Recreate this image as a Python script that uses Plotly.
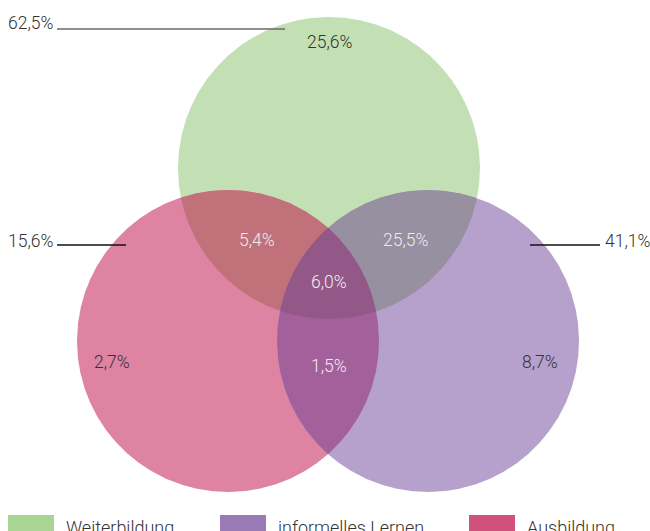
import numpy as np
import plotly.graph_objects as go

# ---- data ----
set_names = ["Weiterbildung", "informelles Lernen", "Ausbildung"]
set_colors = ["#a8d594", "#9a7bb6", "#d0517c"]
set_totals = [62.5, 41.1, 15.6]

region_names = ["W", "I", "A", "W&A", "W&I", "I&A", "W&I&A"]
region_values = [25.6, 8.7, 2.7, 5.4, 25.5, 1.5, 6.0]


def fmt(v):
    return f"{v:.1f}".replace(".", ",") + "%"


# ---- layout (pixel space) ----
W, H = 650, 531
R = 151
centers = {"W": (329, 168), "A": (228, 341), "I": (428, 341)}

# region fill colours (as rendered)
region_fill = {
    "W": "#c3e0b4", "A": "#de83a1", "I": "#b5a1cb",
    "W&A": "#c1717a", "W&I": "#9690a0", "I&A": "#a3609b", "W&I&A": "#935887",
}
region_pos = {
    "W": (329, 42, "#333333"),
    "I": (540, 362, "#333333"),
    "A": (112, 362, "#333333"),
    "W&A": (257, 240, "#f0eaee"),
    "W&I": (405, 240, "#f0eaee"),
    "I&A": (329, 366, "#f0eaee"),
    "W&I&A": (329, 282, "#f0eaee"),
}
total_pos = {
    "Weiterbildung": dict(tx=30, ty=23, x0=57, x1=285, y=29, lc="#6a6a6a"),
    "Ausbildung": dict(tx=30, ty=241, x0=57, x1=126, y=245, lc="#111111"),
    "informelles Lernen": dict(tx=627, ty=241, x0=530, x1=600, y=245, lc="#111111"),
}


def region_poly(keys, n=1440):
    cs = [centers[k] for k in keys]
    pts = []
    t = np.linspace(0, 2 * np.pi, n, endpoint=False)
    for i, (cx, cy) in enumerate(cs):
        px = cx + R * np.cos(t)
        py = cy + R * np.sin(t)
        ok = np.ones(n, bool)
        for j, (ox, oy) in enumerate(cs):
            if j != i:
                ok &= (px - ox) ** 2 + (py - oy) ** 2 <= R * R + 1e-6
        pts.append(np.c_[px[ok], py[ok]])
    pts = np.vstack(pts)
    c = pts.mean(axis=0)
    order = np.argsort(np.arctan2(pts[:, 1] - c[1], pts[:, 0] - c[0]))
    pts = pts[order]
    return np.r_[pts, pts[:1]]


FONT = "Roboto"
fig = go.Figure()
for name in ["W", "A", "I", "W&A", "W&I", "I&A", "W&I&A"]:
    p = region_poly(name.split("&"))
    fig.add_trace(go.Scatter(x=p[:, 0], y=p[:, 1], mode="lines", fill="toself",
                             fillcolor=region_fill[name], line=dict(width=0, color=region_fill[name]),
                             hoverinfo="skip", showlegend=False))

shapes = []
annotations = []
for name, val in zip(region_names, region_values):
    x, y, c = region_pos[name]
    annotations.append(dict(x=x, y=y, xref="x", yref="y", text=fmt(val), showarrow=False,
                            font=dict(family=FONT, size=17.5, color=c, weight=300)))

for name, tot in zip(set_names, set_totals):
    p = total_pos[name]
    shapes.append(dict(type="line", xref="x", yref="y", x0=p["x0"], x1=p["x1"], y0=p["y"], y1=p["y"],
                       line=dict(color=p["lc"], width=1.3)))
    annotations.append(dict(x=p["tx"], y=p["ty"], xref="x", yref="y", text=fmt(tot), showarrow=False,
                            font=dict(family=FONT, size=17.5, color="#333333", weight=300)))

# legend
leg_x = [8, 220, 469]
for name, col, lx in zip(set_names, set_colors, leg_x):
    shapes.append(dict(type="rect", xref="x", yref="y", x0=lx, x1=lx + 46, y0=515, y1=534,
                       fillcolor=col, line=dict(width=0)))
    annotations.append(dict(x=lx + 56, y=527, xref="x", yref="y", text=name, showarrow=False,
                            xanchor="left", font=dict(family=FONT, size=18, color="#333333", weight=300)))

fig.update_layout(
    width=W, height=H, margin=dict(l=0, r=0, t=0, b=0),
    paper_bgcolor="white", plot_bgcolor="white",
    xaxis=dict(range=[0, W], visible=False, fixedrange=True),
    yaxis=dict(range=[H, 0], visible=False, fixedrange=True),
    shapes=shapes, annotations=annotations, showlegend=False,
)
fig.write_html("out.html", config={"displayModeBar": False},
               post_script="document.body.style.margin='0';document.body.style.overflow='hidden';")
